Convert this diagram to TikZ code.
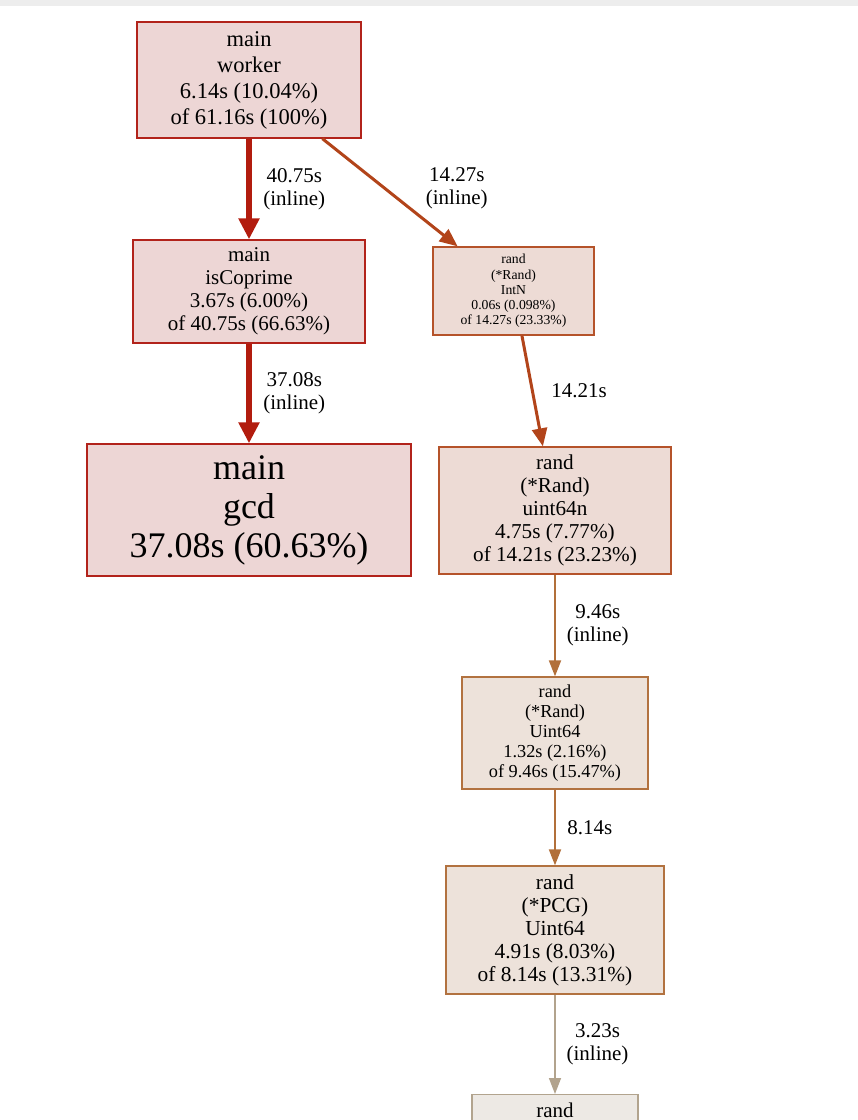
\documentclass[tikz,border=0pt]{standalone}
\usepackage{fontspec}
\setmainfont{Liberation Serif}
\usetikzlibrary{arrows.meta, positioning}

\definecolor{hotline}{HTML}{B21C0E}
\definecolor{hotbox}{HTML}{B2231B}
\definecolor{hotfill}{HTML}{EDD6D5}
\definecolor{warmline}{HTML}{B2441A}
\definecolor{warmbox}{HTML}{B5532A}
\definecolor{warmfill}{HTML}{EDDBD5}
\definecolor{midline}{HTML}{B2703A}
\definecolor{midbox}{HTML}{B27240}
\definecolor{midfill}{HTML}{EDE2DA}
\definecolor{coolline}{HTML}{B2A38D}
\definecolor{coolbox}{HTML}{B2A48E}
\definecolor{coolfill}{HTML}{EDE9E4}

\begin{document}
\begin{tikzpicture}[
  x=1pt, y=-1pt,
  block/.style={rectangle, line width=1.3pt, align=center, inner sep=0pt, text=black},
  arrow/.style={-{Triangle[length=16pt, width=12pt]}, line width=2pt},
  elabel/.style={font=\fontsize{21}{23}\selectfont, align=center, text=black}
]
  \useasboundingbox (0,0) rectangle (858,1120);
  \clip (0,0) rectangle (858,1120);
  \fill[black!7] (0,0) rectangle (858,6);

  % call graph boxes
  \node [block, draw=hotbox, fill=hotfill, minimum width=224pt, minimum height=116pt,
    font=\fontsize{22.5}{26}\selectfont] (worker) at (249,80)
    {main\\worker\\6.14s (10.04\%)\\of 61.16s (100\%)};
  \node [block, draw=hotbox, fill=hotfill, minimum width=232pt, minimum height=103pt,
    font=\fontsize{21}{23}\selectfont] (iscoprime) at (249,291.5)
    {main\\isCoprime\\3.67s (6.00\%)\\of 40.75s (66.63\%)};
  \node [block, draw=hotbox, fill=hotfill, minimum width=324pt, minimum height=132pt,
    font=\fontsize{36}{39}\selectfont] (gcd) at (249,510)
    {main\\gcd\\37.08s (60.63\%)};
  \node [block, draw=warmbox, fill=warmfill, minimum width=161pt, minimum height=88pt,
    font=\fontsize{13.7}{15.2}\selectfont] (intn) at (513.5,291)
    {rand\\(*Rand)\\IntN\\0.06s (0.098\%)\\of 14.27s (23.33\%)};
  \node [block, draw=warmbox, fill=warmfill, minimum width=232pt, minimum height=127pt,
    font=\fontsize{21.2}{23}\selectfont] (uintn) at (555,510.5)
    {rand\\(*Rand)\\uint64n\\4.75s (7.77\%)\\of 14.21s (23.23\%)};
  \node [block, draw=midbox, fill=midfill, minimum width=186pt, minimum height=112pt,
    font=\fontsize{18.3}{20}\selectfont] (randu) at (555,733)
    {rand\\(*Rand)\\Uint64\\1.32s (2.16\%)\\of 9.46s (15.47\%)};
  \node [block, draw=midbox, fill=midfill, minimum width=218pt, minimum height=128pt,
    font=\fontsize{21.4}{23}\selectfont] (pcgu) at (555,930)
    {rand\\(*PCG)\\Uint64\\4.91s (8.03\%)\\of 8.14s (13.31\%)};
  \node [block, draw=coolbox, fill=coolfill, minimum width=166pt, minimum height=128pt,
    anchor=north, label={[anchor=north, yshift=-5pt, font=\fontsize{21}{23}\selectfont]north:rand}]
    (pcgnext) at (555,1094) {};

  % calls
  \draw [arrow, draw=hotline, line width=6pt, -{Triangle[length=21pt, width=20pt]}]
    (worker) -- node[elabel, right=8pt] {40.75s\\(inline)} (iscoprime);
  \draw [arrow, draw=hotline, line width=6pt, -{Triangle[length=21pt, width=20pt]}]
    (iscoprime) -- node[elabel, right=8pt] {37.08s\\(inline)} (gcd);
  \draw [arrow, draw=warmline, line width=3pt, -{Triangle[length=18pt, width=15pt]}]
    (worker) -- node[elabel, right=31pt, yshift=4pt] {14.27s\\(inline)} (intn);
  \draw [arrow, draw=warmline, line width=3pt, -{Triangle[length=18pt, width=15pt]}]
    (intn) -- node[elabel, right=14pt] {14.21s} (uintn);
  \draw [arrow, draw=midline] (uintn) -- node[elabel, right=7.5pt] {9.46s\\(inline)} (randu);
  \draw [arrow, draw=midline] (randu) -- node[elabel, right=8pt] {8.14s} (pcgu);
  \draw [arrow, draw=coolline, line width=1.5pt] (pcgu) -- node[elabel, right=7.5pt] {3.23s\\(inline)} (pcgnext);
\end{tikzpicture}
\end{document}
